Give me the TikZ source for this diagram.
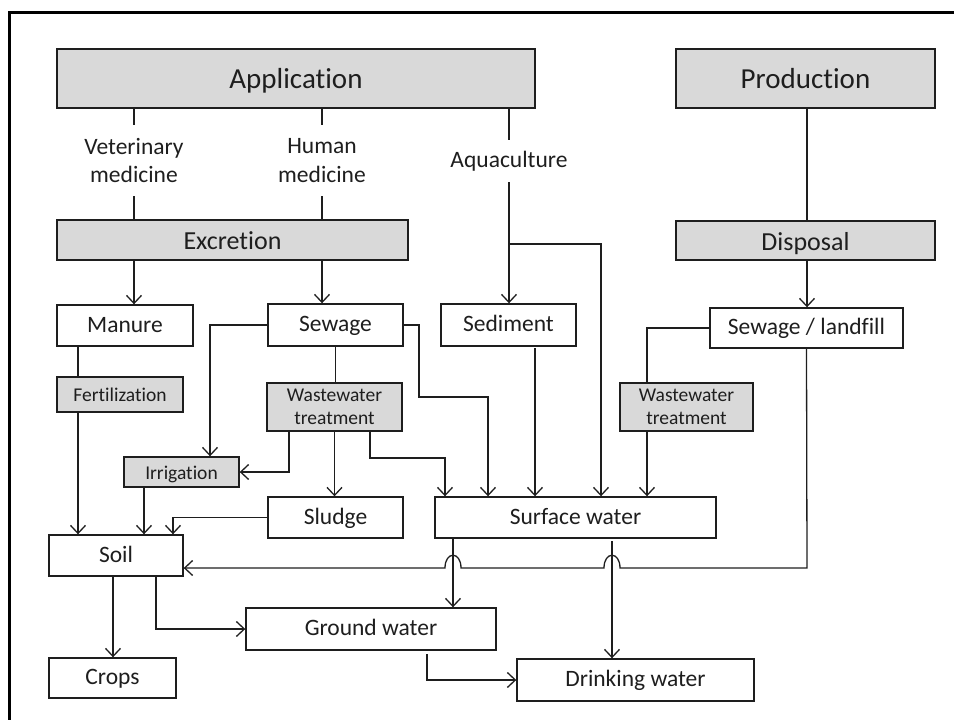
\documentclass[tikz,border=0pt]{standalone}
\usepackage{fontspec}
\setmainfont{Carlito}[Ligatures={NoCommon,NoRare,NoContextual}]
\usetikzlibrary{arrows.meta}
\newcommand\fsbig{\fontsize{29}{34}\selectfont}
\newcommand\fsmid{\fontsize{26}{30}\selectfont}
\newcommand\fsreg{\fontsize{23.5}{28.5}\selectfont}
\newcommand\fssmall{\fontsize{19.5}{23.5}\selectfont}
\definecolor{boxgray}{HTML}{D9D9D9}
\definecolor{ink}{HTML}{1E1E1E}
\tikzset{
  box/.style={draw=ink, line width=1.4pt, fill=white, inner sep=0pt, text=ink, font=\fsreg, align=center},
  gbox/.style={box, fill=boxgray},
  onereg/.style={text height=17pt, text depth=3.5pt},
  onebig/.style={text height=22pt, text depth=3pt},
  onemid/.style={text height=20pt, text depth=1pt},
  onesmall/.style={text height=15pt, text depth=0.5pt},
  lbl/.style={inner sep=0pt, text=ink, font=\fsreg, align=center},
  conn/.style={line width=1.3pt, draw=ink},
  arr/.style={conn, -{Straight Barb[length=8pt,width=15pt]}},
  frameline/.style={line width=3pt, draw=black},
}
\begin{document}
\begin{tikzpicture}[x=1pt,y=-1pt]
\useasboundingbox (0,0) rectangle (954,720);
% frame
\draw[frameline] (9.5,720) -- (9.5,12.5) -- (954,12.5);
% nodes
\node[gbox, font=\fsbig, onebig, minimum width=478, minimum height=59] (app) at (296,78.5) {Application};
\node[gbox, font=\fsbig, onebig, minimum width=259, minimum height=59] (prod) at (805.5,78.5) {Production};
\node[lbl, minimum height=71] (vet) at (134,160.5) {Veterinary\\medicine};
\node[lbl, minimum height=71] (hum) at (322,160.5) {Human\\medicine};
\node[lbl, onereg, minimum height=42] (aqua) at (509,161) {Aquaculture};
\node[gbox, font=\fsmid, onemid, minimum width=351, minimum height=40] (exc) at (232.5,240) {Excretion};
\node[gbox, font=\fsmid, onemid, minimum width=259, minimum height=39] (disp) at (805.5,240.5) {Disposal};
\node[box, onereg, minimum width=136, minimum height=41] (man) at (125,325.5) {Manure};
\node[box, onereg, minimum width=135, minimum height=42] (sew) at (335.5,325) {Sewage};
\node[box, onereg, minimum width=135, minimum height=42] (sed) at (508.5,325) {Sediment};
\node[box, onereg, minimum width=193, minimum height=40] (slf) at (806.5,328) {Sewage / landfill};
\node[gbox, font=\fssmall, onesmall, minimum width=126, minimum height=35] (fert) at (120,394.5) {Fertilization};
\node[gbox, font=\fssmall, minimum width=135, minimum height=48] (wwa) at (334.5,407) {Wastewater\\treatment};
\node[gbox, font=\fssmall, minimum width=133, minimum height=48] (wwb) at (686.5,407) {Wastewater\\treatment};
\node[gbox, font=\fssmall, onesmall, minimum width=115, minimum height=30] (irr) at (181.5,472) {Irrigation};
\node[box, onereg, minimum width=135, minimum height=41] (slu) at (335.5,517.5) {Sludge};
\node[box, onereg, minimum width=281, minimum height=41] (sw) at (575.5,517.5) {Surface water};
\node[box, onereg, minimum width=134, minimum height=41] (soil) at (116,555.5) {Soil};
\node[box, onereg, minimum width=250, minimum height=42] (gw) at (371,629) {Ground water};
\node[box, onereg, minimum width=127, minimum height=40] (crops) at (112.5,678) {Crops};
\node[box, onereg, minimum width=237, minimum height=42] (dw) at (635.5,680) {Drinking water};
% application branches
\draw[conn] (app.south -| vet) -- (vet.north);
\draw[conn] (vet.south) -- (vet.south |- exc.north);
\draw[conn] (app.south -| hum) -- (hum.north);
\draw[conn] (hum.south) -- (hum.south |- exc.north);
\draw[conn] (app.south -| aqua) -- (aqua.north);
\draw[arr] (aqua.south) -- (aqua.south |- sed.north);
\draw[arr] (aqua.south |- 0,244) -- (601,244) -- (sw.north -| 601,0);
% production
\draw[conn] (prod.south -| 807,0) -- (disp.north -| 807,0);
\draw[arr] (disp.south -| 807,0) -- (slf.north -| 807,0);
% excretion
\draw[arr] (exc.south -| vet) -- (man.north -| vet);
\draw[arr] (exc.south -| hum) -- (sew.north -| hum);
% manure
\draw[conn] (man.south -| 78,0) -- (fert.north -| 78,0);
\draw[arr] (fert.south -| 78,0) -- (soil.north -| 78,0);
% sewage
\draw[arr] (sew.west) -| (irr.north -| 210,0);
\draw[conn] (sew.south) -- (sew.south |- wwa.north);
\draw[arr] (sew.east) -- (419,325) -- (419,397) -- (488,397) -- (sw.north -| 488,0);
% wastewater treatment (left)
\draw[arr] (wwa.south -| 289,0) |- (irr.east);
\draw[arr] (wwa.south) -- (wwa.south |- slu.north);
\draw[arr] (wwa.south -| 370,0) -- (370,458) -- (445,458) -- (sw.north -| 445,0);
% sediment
\draw[arr] (535,348) -- (sw.north -| 535,0);
% sewage/landfill
\draw[conn] (slf.west) -| (wwb.north -| 647,0);
\draw[arr] (wwb.south -| 647,0) -- (sw.north -| 647,0);
% irrigation, sludge to soil
\draw[arr] (irr.south -| 144,0) -- (soil.north -| 144,0);
\draw[arr] (slu.west) -| (soil.north -| 173,0);
% long return line with hops
\draw[arr] (slf.south) -- (807,568) -- (620,568)
  .. controls (620,551) and (604,551) .. (604,568) -- (461,568)
  .. controls (461,551) and (445,551) .. (445,568) -- (soil.east |- 0,568);
% soil
\draw[arr] (soil.south -| 113,0) -- (crops.north -| 113,0);
\draw[arr] (soil.south -| 156,0) |- (gw.west);
% surface water
\draw[arr] (sw.south -| 453,0) -- (gw.north -| 453,0);
\draw[arr] (612,541) -- (dw.north -| 612,0);
% ground water
\draw[arr] (427,654) |- (dw.west);
\end{tikzpicture}
\end{document}
